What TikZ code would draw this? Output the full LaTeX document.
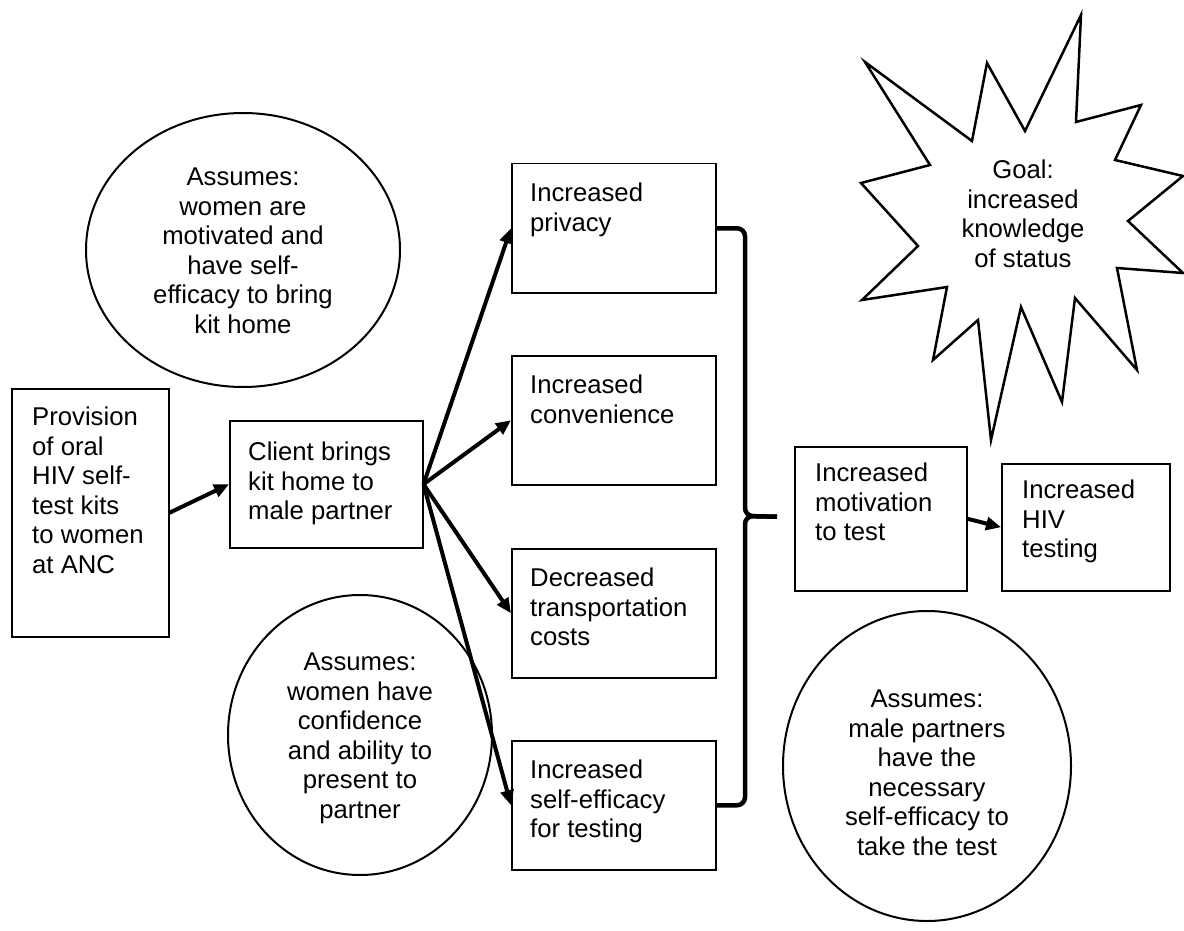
\documentclass[tikz,border=0pt]{standalone}
\usepackage{fontspec}
\setmainfont{Liberation Sans}
\usetikzlibrary{shapes.geometric,arrows.meta,calc}
\begin{document}
\begin{tikzpicture}[x=1pt,y=-1pt,
  box/.style={draw, line width=1.5pt, inner sep=0pt, anchor=north west},
  txt/.style={inner sep=0pt, align=left, anchor=north west, font=\fontsize{25.7}{29.5}\selectfont},
  ctxt/.style={txt, align=center, anchor=north},
  oval/.style={draw, ellipse, line width=2pt, inner sep=0pt},
  arr/.style={line width=4pt, -{Triangle[length=15pt,width=13pt]}},
  bracestyle/.style={line width=4.5pt, rounded corners=8pt},
  starstyle/.style={line width=2.5pt, line join=miter}]
\useasboundingbox (0,0) rectangle (1184,931);
\fill[white] (0,0) rectangle (1184,931);

% star (goal)
\draw[starstyle] (1081,15) -- (1076,122) -- (1141,105) -- (1115,160) -- (1183,176) -- (1128,221)
  -- (1183,273) -- (1117,268) -- (1137,370) -- (1075,298) -- (1062,402) -- (1021,307)
  -- (991,440) -- (978,320) -- (933,360) -- (947,287) -- (862,300) -- (918,246)
  -- (861,183) -- (930,165) -- (865,62) -- (972,141) -- (987,63) -- (1025,131) -- cycle;
\node[ctxt] (goal) at (1023,160) {Goal:\\increased\\knowledge\\of status};

% ellipses
\node[oval, minimum width=314pt, minimum height=274pt] (e1) at (243,250) {};
\node[ctxt] (e1t) at (243,168) {Assumes:\\women are\\motivated and\\have self-\\efficacy to bring\\kit home};
\node[oval, minimum width=264pt, minimum height=280pt] (e2) at (360,735) {};
\node[ctxt] (e2t) at (360,653) {Assumes:\\women have\\confidence\\and ability to\\present to\\partner};
\node[oval, minimum width=288pt, minimum height=310pt] (e3) at (927,766) {};
\node[ctxt] (e3t) at (927,690) {Assumes:\\male partners\\have the\\necessary\\self-efficacy to\\take the test};

% boxes
\node[box, minimum width=157pt, minimum height=248pt] (prov) at (11,388) {};
\node[txt] (provt) at (32,407) {Provision\\of oral\\HIV self-\\test kits\\to women\\at ANC};
\node[box, minimum width=193pt, minimum height=127pt] (client) at (229,420) {};
\node[txt] (clientt) at (248,442) {Client brings\\kit home to\\male partner};

\node[box, minimum width=204pt, minimum height=129pt] (priv) at (511,163) {};
\node[txt] (privt) at (530,183) {Increased\\privacy};
\node[box, minimum width=204pt, minimum height=129pt] (conv) at (511,355) {};
\node[txt] (convt) at (530,375) {Increased\\convenience};
\node[box, minimum width=204pt, minimum height=129pt] (trans) at (511,548) {};
\node[txt] (transt) at (530,568) {Decreased\\transportation\\costs};
\node[box, minimum width=204pt, minimum height=129pt] (selfeff) at (511,740) {};
\node[txt] (selfefft) at (530,760) {Increased\\self-efficacy\\for testing};

\node[box, minimum width=172pt, minimum height=144pt] (motiv) at (794,446) {};
\node[txt] (motivt) at (815,463) {Increased\\motivation\\to test};
\node[box, minimum width=168pt, minimum height=127pt] (hiv) at (1001,463) {};
\node[txt] (hivt) at (1022,480) {Increased\\HIV\\testing};

% arrows
\draw[arr] (prov.east) -- (client.west);
\draw[arr] (client.east) -- (priv.west);
\draw[arr] (client.east) -- (conv.west);
\draw[arr] (client.east) -- (trans.west);
\draw[arr] (client.east) -- (selfeff.west);
\draw[arr] (motiv.east) -- (hiv.west);

% brace
\coordinate (bracetip) at ($(motiv.west)+(-17,-2)$);
\coordinate (spinemid) at (745,516);
\draw[bracestyle] (priv.east) -| (spinemid) -- (bracetip);
\draw[bracestyle] (selfeff.east) -| (spinemid) -- (bracetip);
\end{tikzpicture}
\end{document}
